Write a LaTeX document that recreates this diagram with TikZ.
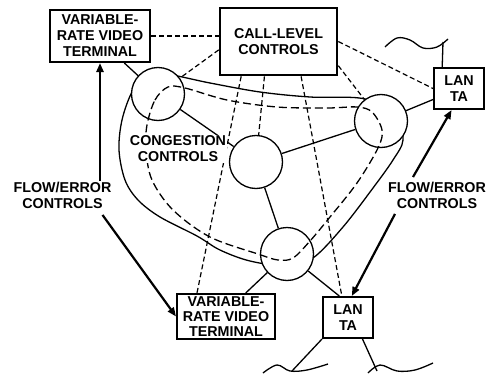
\documentclass[tikz,border=0pt]{standalone}
\usepackage{fontspec}
\setmainfont{Liberation Sans}
\usetikzlibrary{arrows.meta}

\tikzset{
  lbl/.style={font=\fontsize{14.3}{16}\selectfont\bfseries, align=center, inner sep=0.5pt},
  tbox/.style={lbl, draw, line width=2pt, fill=white},
  sw/.style={circle, draw, line width=1.3pt, fill=white, minimum size=53pt, inner sep=0pt},
  link/.style={line width=1.3pt},
  ctrl/.style={line width=1.2pt, dash pattern=on 5pt off 3pt},
  loopd/.style={line width=1.3pt, dash pattern=on 8pt off 4pt},
  flowarr/.style={line width=2.2pt, -{Triangle[length=9pt,width=7pt]}}
}

\begin{document}
\begin{tikzpicture}[x=1pt,y=-1pt]
\useasboundingbox (0,0) rectangle (488,375);
\draw[link] plot[smooth cycle, tension=0.55] coordinates {(165,74) (210,83) (260,92) (310,97) (365,99) (395,118) (403,140) (393,160) (373,188) (343,227) (313,258) (287,266) (250,261) (220,250) (197,236) (160,217) (138,200) (125,180) (119,150) (122,120) (132,92) (145,78)};
\node[sw] (c1) at (158,94) {};
\node[sw] (c2) at (256,162) {};
\node[sw] (c3) at (381,121) {};
\node[sw] (c4) at (287,254) {};
\node[tbox, minimum width=100pt, minimum height=52pt] (vrvtA) at (100,36) {VARIABLE-\\RATE VIDEO\\TERMINAL};
\node[tbox, line width=2.6pt, minimum width=117pt, minimum height=67pt] (callA) at (278.5,41.5) {CALL-LEVEL\\CONTROLS};
\node[tbox, minimum width=50pt, minimum height=41pt] (lanA) at (459,88.5) {LAN\\TA};
\node[tbox, font=\fontsize{14.3}{15}\selectfont\bfseries, inner sep=0pt, minimum width=98pt, minimum height=45pt] (vrvtB) at (226,316.5) {VARIABLE-\\RATE VIDEO\\TERMINAL};
\node[tbox, minimum width=50pt, minimum height=41pt] (lanB) at (348,317.5) {LAN\\TA};
\draw[loopd] plot[smooth cycle, tension=0.55] coordinates {(147,125) (155,100) (168,87) (185,88) (227,100) (277,107) (327,108) (357,107) (372,112) (382,130) (378,148) (357,183) (330,217) (310,241) (293,258) (278,260) (258,254) (210,237) (173,210) (152,180) (146,150)};
\draw[ctrl] (vrvtA.east) -- (vrvtA.east -| callA.west);
\draw[ctrl] (callA.188) -- (c1);
\draw[ctrl] (callA.east) -- (lanA.west);
\draw[ctrl] (callA.-22) -- (c3);
\draw[ctrl] (callA.223) -- (vrvtB.141);
\draw[ctrl] (callA.248) -- (c2);
\draw[ctrl] (callA.-57) -- (lanB.106);
\draw[link] (vrvtA.-48.5) -- (c1);
\draw[link] (c1) -- (c2);
\draw[link] (c2) -- (c3);
\draw[link] (c2) -- (c4);
\draw[link] (c3) -- (lanA.203);
\draw[link] (c4) -- (vrvtB.50);
\draw[link] (c4) -- (lanB.112);
\node[lbl, fill=white] (congest) at (178,149) {CONGESTION\\CONTROLS};
\node[lbl] (flowL) at (62.5,195) {FLOW/ERROR\\CONTROLS};
\node[lbl] (flowR) at (437,195) {FLOW/ERROR\\CONTROLS};
\draw[flowarr] (flowL.north -| vrvtA.south) -- (vrvtA.south);
\draw[flowarr] ([xshift=40pt,yshift=-6pt]flowL.south) -- (vrvtB.west);
\draw[flowarr] ([xshift=-24pt,yshift=4pt]flowR.north) -- (lanA.251);
\draw[flowarr] ([xshift=-42pt,yshift=-5pt]flowR.south) -- (lanB.80);
\coordinate (lanTop) at (443,42);
\coordinate (lanBotL) at (292,371);
\coordinate (lanBotR) at (377,371);
\draw[link] (lanA.128) -- (lanTop);
\draw[link] (lanB.south west) -- (lanBotL);
\draw[link] (lanB.-56) -- (lanBotR);
\draw[link] plot[smooth, tension=0.6] coordinates {(385,47) (397,38) (410,40) (423,48) (437,47) (448,39)};
\draw[link] plot[smooth, tension=0.6] coordinates {(263,373) (277,365) (290,371) (307,370) (328,364)};
\draw[link] plot[smooth, tension=0.6] coordinates {(368,373) (380,365) (397,371) (415,370) (433,363)};
\end{tikzpicture}
\end{document}
